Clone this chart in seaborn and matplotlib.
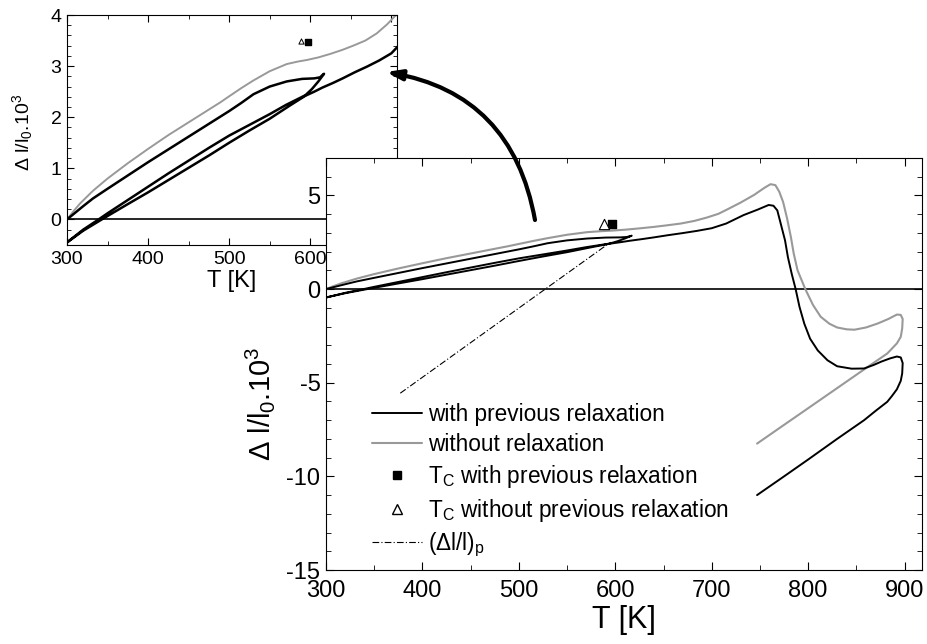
import matplotlib
matplotlib.use("Agg")
import matplotlib.pyplot as plt
from matplotlib.lines import Line2D
from matplotlib.ticker import MultipleLocator
import seaborn as sns

sns.set_style("ticks", {'axes.edgecolor': 'black', 'text.color': 'black', 'axes.labelcolor': 'black',
                        'xtick.color': 'black', 'ytick.color': 'black'})
plt.rcParams['font.family'] = ['Liberation Sans', 'DejaVu Sans']
plt.rcParams['mathtext.fontset'] = 'custom'
plt.rcParams['mathtext.rm'] = 'Liberation Sans'
plt.rcParams['mathtext.it'] = 'Liberation Sans:italic'
plt.rcParams['axes.unicode_minus'] = False

# sample with previous relaxation: heat to ~617 K, cool to 300 K, heat to 900 K, cool
relax_T = [300, 310, 320, 332, 350, 375, 400, 425, 450, 475, 500, 515, 530, 550, 571, 590, 605, 612, 617,
           610, 602, 594, 570, 550, 525, 500, 475, 450, 425, 400, 375, 350, 339, 320, 300,
           320, 345, 375, 400, 425, 450, 475, 500, 525, 550, 575, 594, 605, 615, 628, 640, 655, 670, 685, 700,
           715, 733, 748, 759, 764, 768, 771, 776, 779, 783, 787, 791, 796, 802, 810, 820, 830, 845, 858,
           868, 876, 885, 892, 896, 898, 897.5, 896, 892, 887, 882, 870, 858, 830, 800, 775, 747]
relax_dl = [0, 0.13, 0.26, 0.41, 0.6, 0.86, 1.12, 1.37, 1.62, 1.87, 2.12, 2.28, 2.45, 2.6, 2.7, 2.75, 2.76, 2.78, 2.85,
            2.7, 2.55, 2.43, 2.24, 2.06, 1.85, 1.64, 1.4, 1.15, 0.9, 0.64, 0.38, 0.12, 0.0, -0.2, -0.45,
            -0.22, 0.02, 0.3, 0.53, 0.77, 1.01, 1.25, 1.5, 1.74, 1.97, 2.23, 2.42, 2.5, 2.58, 2.67, 2.76, 2.88, 2.99, 3.11, 3.25,
            3.5, 3.95, 4.25, 4.49, 4.45, 4.2, 3.6, 2.6, 1.7, 0.8, 0.0, -0.95, -1.85, -2.65, -3.28, -3.8, -4.12, -4.25, -4.24,
            -4.05, -3.87, -3.7, -3.6, -3.65, -3.95, -4.5, -4.9, -5.35, -5.7, -6.02, -6.5, -7.0, -8.0, -9.1, -10.0, -11.0]

# sample without relaxation
plain_T = [300, 308, 316, 332, 350, 375, 400, 425, 450, 475, 489, 501, 515, 530, 550, 571, 585, 596, 610, 625, 640,
           653, 668, 682, 695, 707, 716, 730, 744, 755, 761, 766, 770, 774, 778, 782, 785, 789, 797, 805, 813,
           822, 830, 840, 848, 860, 872, 883, 892, 896, 898, 897.5, 896, 892, 882, 858, 830, 800, 775, 747]
plain_dl = [0, 0.16, 0.31, 0.56, 0.8, 1.1, 1.38, 1.65, 1.9, 2.15, 2.29, 2.42, 2.57, 2.72, 2.9, 3.04, 3.09, 3.12, 3.17, 3.24, 3.32,
            3.4, 3.5, 3.64, 3.82, 4.02, 4.25, 4.62, 5.03, 5.42, 5.6, 5.55, 5.2, 4.65, 3.8, 2.8, 1.9, 1.0, 0.0, -0.85, -1.48,
            -1.85, -2.05, -2.15, -2.17, -2.05, -1.84, -1.6, -1.36, -1.38, -1.6, -2.1, -2.55, -2.9, -3.44, -4.29, -5.29, -6.36, -7.25, -8.25]

# Curie temperatures
tc_relax_T = [597]
tc_relax_dl = [3.48]
tc_plain_T = [588]
tc_plain_dl = [3.5]

# (dl/l)_p reference line
p_T = [377, 595]
p_dl = [-5.56, 2.5]

fig = plt.figure(figsize=(9.28, 6.44), dpi=100)
ax_in = fig.add_axes([0.0722, 0.6196, 0.3556, 0.3571])
ax = fig.add_axes([0.3513, 0.1149, 0.6422, 0.6398])
ax_in.set_zorder(1)
ax.set_zorder(2)
ax.set_facecolor('white')

gray = '#999999'

# ---- inset ----
ax_in.axhline(0, color='black', lw=1.2)
sns.lineplot(x=plain_T, y=plain_dl, sort=False, estimator=None, color=gray, lw=1.4, ax=ax_in)
sns.lineplot(x=relax_T, y=relax_dl, sort=False, estimator=None, color='black', lw=1.8, ax=ax_in)
ax_in.scatter(tc_relax_T, tc_relax_dl, marker='s', s=14, color='black', zorder=5)
ax_in.scatter(tc_plain_T, tc_plain_dl, marker='^', s=14, facecolor='white', edgecolor='black', lw=0.7, zorder=5)
ax_in.set_xlim(300, 707)
ax_in.set_ylim(-0.5, 4)
ax_in.xaxis.set_major_locator(MultipleLocator(100))
ax_in.xaxis.set_minor_locator(MultipleLocator(50))
ax_in.yaxis.set_major_locator(MultipleLocator(1))
ax_in.yaxis.set_minor_locator(MultipleLocator(0.2))
ax_in.tick_params(which='both', direction='in', top=True, right=True, labelsize=14, pad=4)
ax_in.tick_params(which='major', length=5)
ax_in.tick_params(which='minor', length=3)
ax_in.set_xlabel('T [K]', fontsize=17, labelpad=2)
ax_in.set_ylabel(r'$\Delta$ l/l$_\mathrm{0}$.10$^\mathrm{3}$', fontsize=14)
ax_in.yaxis.set_label_coords(-0.097, 0.49)

# ---- main ----
ax.axhline(0, color='black', lw=1.2)
sns.lineplot(x=plain_T, y=plain_dl, sort=False, estimator=None, color=gray, lw=1.5, ax=ax)
sns.lineplot(x=relax_T, y=relax_dl, sort=False, estimator=None, color='black', lw=1.4, ax=ax)
sns.lineplot(x=p_T, y=p_dl, sort=False, estimator=None, color='black', lw=0.8,
             dashes=False, ax=ax).lines[-1].set_dashes((6, 2, 1, 2))
ax.scatter(tc_relax_T, tc_relax_dl, marker='s', s=40, color='black', zorder=5)
ax.scatter(tc_plain_T, tc_plain_dl, marker='^', s=55, facecolor='white', edgecolor='black', lw=0.8, zorder=5)
ax.set_xlim(300, 918)
ax.set_ylim(-15, 7)
ax.xaxis.set_major_locator(MultipleLocator(100))
ax.xaxis.set_minor_locator(MultipleLocator(50))
ax.yaxis.set_major_locator(MultipleLocator(5))
ax.yaxis.set_minor_locator(MultipleLocator(1))
ax.tick_params(which='both', direction='in', top=True, right=True, labelsize=17)
ax.tick_params(axis='x', pad=7)
ax.tick_params(axis='y', pad=4)
ax.tick_params(which='major', length=6)
ax.tick_params(which='minor', length=3.5)
ax.set_xlabel('T [K]', fontsize=22, labelpad=2)
ax.set_ylabel(r'$\Delta$ l/l$_\mathrm{0}$.10$^\mathrm{3}$', fontsize=21)
ax.yaxis.set_label_coords(-0.082, 0.403)

handles = [
    Line2D([], [], color='black', lw=1.4),
    Line2D([], [], color=gray, lw=1.5),
    Line2D([], [], marker='s', ls='none', color='black', markersize=6),
    Line2D([], [], marker='^', ls='none', markerfacecolor='white', markeredgecolor='black', markersize=7),
    Line2D([], [], color='black', lw=0.8, dashes=(6, 2, 1, 2)),
]
labels = [
    'with previous relaxation',
    'without relaxation',
    r'T$_\mathrm{C}$ with previous relaxation',
    r'T$_\mathrm{C}$ without previous relaxation',
    r'($\Delta$l/l)$_\mathrm{p}$',
]
leg = ax.legend(handles, labels, loc='upper left', bbox_to_anchor=(0.077, 0.405), frameon=False,
                fontsize=16.3, handlelength=2.2, handletextpad=0.3, labelspacing=0.3,
                borderpad=0, borderaxespad=0)

# curved arrow from the main plot to the inset
ax.annotate('', xy=(386 / 928, 1 - 72 / 644), xycoords='figure fraction',
            xytext=(535 / 928, 1 - 220 / 644), textcoords='figure fraction',
            arrowprops=dict(arrowstyle='-|>,head_length=0.9,head_width=0.3', color='black', lw=3,
                            connectionstyle='arc3,rad=0.35', shrinkA=0, shrinkB=0),
            annotation_clip=False, zorder=10)

fig.savefig('out.png', dpi=100)
